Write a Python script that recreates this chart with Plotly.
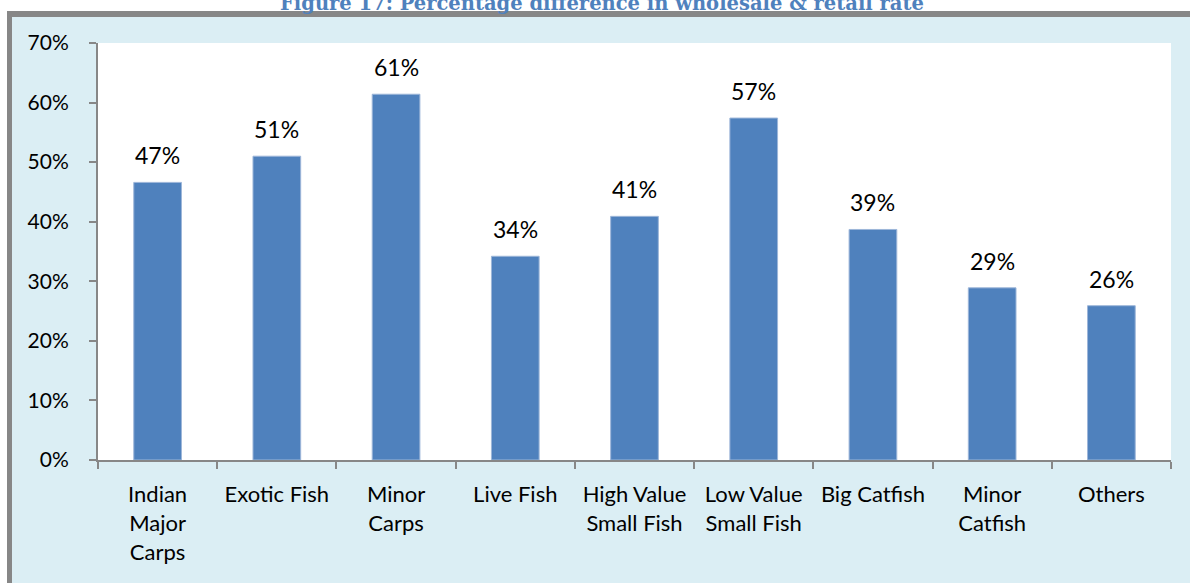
import plotly.graph_objects as go

categories = ["Indian<br>Major<br>Carps", "Exotic Fish", "Minor<br>Carps", "Live Fish",
              "High Value<br>Small Fish", "Low Value<br>Small Fish", "Big Catfish",
              "Minor<br>Catfish", "Others"]
pct_diff = [0.466, 0.510, 0.614, 0.342, 0.409, 0.574, 0.387, 0.289, 0.259]
y_ticks = [0, 0.1, 0.2, 0.3, 0.4, 0.5, 0.6, 0.7]

W, H = 1190, 583
L, R, T, B = 98, 19, 43, 123
pw, ph = W - L - R, H - T - B


def px(x):
    return (x - L) / pw


def py(y):
    return (H - B - y) / ph


BG = "#DBEEF4"
GRAY = "#878787"
FONT = "Lato"

fig = go.Figure()
fig.add_trace(go.Bar(
    x=categories, y=pct_diff,
    marker=dict(color="#4F81BD", line=dict(color="#9DB6D9", width=1)),
    hovertemplate="%{y:.0%}<extra></extra>",
))

# data labels, lifted a bit above the bars like the original
labels = [dict(x=c, y=v, text=f"{v:.0%}", xref="x", yref="y", showarrow=False,
               yanchor="bottom", yshift=11, font=dict(family=FONT, size=23, color="black"))
          for c, v in zip(categories, pct_diff)]

shapes = [
    dict(type="rect", xref="paper", yref="paper", x0=px(-5), x1=px(W + 5), y0=py(11), y1=py(-5),
         fillcolor="white", line_width=0),
    dict(type="rect", xref="paper", yref="paper", x0=px(-5), x1=px(7), y0=py(H + 5), y1=py(-5),
         fillcolor="white", line_width=0),
    dict(type="rect", xref="paper", yref="paper", x0=px(7), x1=px(W + 5), y0=py(17), y1=py(11),
         fillcolor=GRAY, line_width=0),
    dict(type="rect", xref="paper", yref="paper", x0=px(7), x1=px(12), y0=py(H + 5), y1=py(11),
         fillcolor=GRAY, line_width=0),
]

title = dict(
    text="<b>Figure 17: Percentage difference in wholesale & retail rate</b>",
    xref="paper", yref="paper", x=px(602), y=py(17), xanchor="center", yanchor="bottom",
    showarrow=False, font=dict(family="DejaVu Serif", size=19.5, color="#4F81BD"),
)

fig.update_layout(
    width=W, height=H,
    margin=dict(l=L, r=R, t=T, b=B),
    paper_bgcolor=BG, plot_bgcolor="white",
    bargap=0.6, showlegend=False,
    font=dict(family=FONT, size=21, color="black"),
    shapes=shapes,
    annotations=labels + [title],
    xaxis=dict(
        showline=True, linecolor=GRAY, linewidth=2, ticks="outside", ticklen=7,
        tickcolor=GRAY, tickwidth=2, tickson="boundaries", showgrid=False,
        tickfont=dict(family=FONT, size=22), ticklabelstandoff=14,
    ),
    yaxis=dict(
        range=[0, 0.7], tickvals=y_ticks, tickformat=".0%", showgrid=False,
        showline=True, linecolor=GRAY, linewidth=2, ticks="outside", ticklen=7,
        tickcolor=GRAY, tickwidth=2, zeroline=False,
        tickfont=dict(family=FONT, size=21), ticklabelstandoff=16,
    ),
)

# page body has a default 8px margin; drop it so the figure sits at the window corner
fig.write_html("out.html", config={"displayModeBar": False},
               post_script="document.body.style.margin='0';")
